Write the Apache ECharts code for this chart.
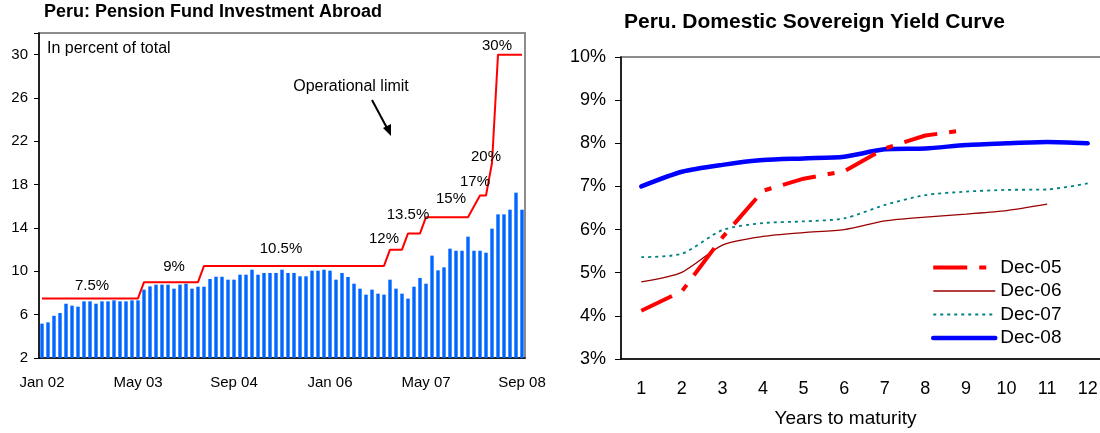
<!DOCTYPE html>
<html>
<head>
<meta charset="utf-8">
<title>Peru: pension funds abroad and yield curve</title>
<script src="https://cdn.jsdelivr.net/npm/echarts@6.0.0/dist/echarts.min.js"></script>
<style>
  html, body { margin: 0; padding: 0; background: #fff; }
  #chart { width: 1100px; height: 433px; }
</style>
</head>
<body>
<div id="chart"></div>
<script>
  // left panel: monthly, Jan 02 .. Sep 08
  var monthNames = ['Jan', 'Feb', 'Mar', 'Apr', 'May', 'Jun', 'Jul', 'Aug', 'Sep', 'Oct', 'Nov', 'Dec'];
  var years = ['02', '03', '04', '05', '06', '07', '08'];
  var lastMonth = 'Sep 08';

  var months = [];
  years.forEach(function (y) {
    monthNames.forEach(function (m) {
      if (months.length && months[months.length - 1] === lastMonth) return;
      months.push(m + ' ' + y);
    });
  });

  // pension fund investment abroad, percent of total
  var abroadShare = [
    5.17, 5.29, 5.9, 6.15, 7.01, 6.83, 6.74, 7.23, 7.23, 7.01, 7.23, 7.23,
    7.32, 7.23, 7.23, 7.32, 7.32, 8.31, 8.61, 8.77, 8.77, 8.77, 8.4, 8.77,
    8.86, 8.4, 8.58, 8.58, 9.29, 9.5, 9.5, 9.23, 9.23, 9.69, 9.69, 10.15,
    9.69, 9.85, 9.85, 9.85, 10.15, 9.85, 9.85, 9.54, 9.54, 10.06, 10.06, 10.15,
    10.06, 9.23, 9.85, 9.48, 8.86, 8.4, 7.85, 8.31, 7.94, 7.85, 9.23, 8.4,
    7.94, 7.48, 8.58, 9.39, 8.86, 11.45, 10.09, 10.37, 12.09, 11.9, 11.9, 13.2,
    11.9, 11.9, 11.72, 13.94, 15.26, 15.26, 15.69, 17.26, 15.69
  ];

  // operational limit
  var operationalLimit = [
    7.5, 7.5, 7.5, 7.5, 7.5, 7.5, 7.5, 7.5, 7.5, 7.5, 7.5, 7.5,
    7.5, 7.5, 7.5, 7.5, 7.5, 9, 9, 9, 9, 9, 9, 9,
    9, 9, 9, 10.5, 10.5, 10.5, 10.5, 10.5, 10.5, 10.5, 10.5, 10.5,
    10.5, 10.5, 10.5, 10.5, 10.5, 10.5, 10.5, 10.5, 10.5, 10.5, 10.5, 10.5,
    10.5, 10.5, 10.5, 10.5, 10.5, 10.5, 10.5, 10.5, 10.5, 10.5, 12, 12,
    12, 13.5, 13.5, 13.5, 15, 15, 15, 15, 15, 15, 15, 15,
    16, 17, 17, 20, 30, 30, 30, 30, 30
  ];

  // right panel: yield curve
  var maturities = ['1', '2', '3', '4', '5', '6', '7', '8', '9', '10', '11', '12'];
  var dec05 = [4.12, 4.57, 5.82, 6.9, 7.18, 7.35, 7.88, 8.18, 8.31];
  var dec06 = [4.79, 5.01, 5.64, 5.84, 5.93, 6.0, 6.2, 6.29, 6.36, 6.44, 6.59];
  var dec07 = [5.36, 5.44, 5.99, 6.15, 6.19, 6.26, 6.57, 6.8, 6.88, 6.92, 6.93, 7.07];
  var dec08 = [7.0, 7.34, 7.5, 7.61, 7.65, 7.69, 7.86, 7.88, 7.96, 8.0, 8.03, 8.0];

  var FONT = '"Liberation Sans", Arial, sans-serif';

  function note(text, x, y, size) {
    return {
      type: 'text', z: 100,
      style: {
        text: text, x: x, y: y, align: 'center', verticalAlign: 'middle',
        fontSize: size || 15, fontFamily: FONT, fill: '#000'
      }
    };
  }

  var chart = echarts.init(document.getElementById('chart'));
  chart.setOption({
    animation: false,
    backgroundColor: '#fff',
    textStyle: { fontFamily: FONT, color: '#000' },
    title: [
      {
        text: 'Peru: Pension Fund Investment Abroad', left: 44, top: 3, padding: 0,
        textStyle: { fontSize: 18, fontWeight: 'bold', color: '#000', fontFamily: FONT }
      },
      {
        text: 'Peru. Domestic Sovereign Yield Curve', left: 624, top: 12, padding: 0,
        textStyle: { fontSize: 21, fontWeight: 'bold', color: '#000', fontFamily: FONT }
      }
    ],
    legend: {
      data: ['Dec-05', 'Dec-06', 'Dec-07', 'Dec-08'],
      orient: 'vertical', left: 931, top: 258, padding: 0,
      itemWidth: 62, itemHeight: 20, itemGap: 4.5,
      itemStyle: { opacity: 0 },
      lineStyle: { width: 'inherit' },
      textStyle: { fontSize: 19, color: '#000', fontFamily: FONT }
    },
    grid: [
      { left: 39, top: 33, width: 486, height: 325, show: true, borderColor: '#8c8c8c', borderWidth: 2, outerBoundsMode: 'none' },
      { left: 621, top: 57, right: -8, height: 302, show: true, borderColor: '#8c8c8c', borderWidth: 2, outerBoundsMode: 'none' }
    ],
    xAxis: [
      {
        gridIndex: 0, type: 'category', data: months, boundaryGap: true,
        axisLine: { lineStyle: { color: '#000', width: 1.5 } },
        axisTick: { interval: 15, length: 5, lineStyle: { color: '#000' } },
        axisLabel: { interval: 15, margin: 17, fontSize: 15, color: '#000' },
        splitLine: { show: false }
      },
      {
        gridIndex: 1, type: 'category', data: maturities, boundaryGap: true,
        name: 'Years to maturity', nameLocation: 'middle', nameGap: 50,
        nameTextStyle: { fontSize: 19, color: '#000', padding: [0, 38, 0, 0] },
        axisLine: { lineStyle: { color: '#000', width: 1.5 } },
        axisTick: { length: 6, lineStyle: { color: '#000' } },
        axisLabel: { margin: 21, fontSize: 18, color: '#000' },
        splitLine: { show: false }
      }
    ],
    yAxis: [
      {
        gridIndex: 0, type: 'value', min: 2, max: 32, interval: 4,
        axisLine: { show: true, lineStyle: { color: '#000', width: 1.5 } },
        axisTick: { show: true, length: 5, lineStyle: { color: '#000' } },
        axisLabel: {
          margin: 11, fontSize: 15, color: '#000',
          formatter: function (v) { return v > 30 ? '' : v; }
        },
        splitLine: { show: false }
      },
      {
        gridIndex: 1, type: 'value', min: 3, max: 10, interval: 1,
        axisLine: { show: true, lineStyle: { color: '#000', width: 1.5 } },
        axisTick: { show: true, length: 6, lineStyle: { color: '#000' } },
        axisLabel: { margin: 15, fontSize: 18, color: '#000', formatter: '{value}%' },
        splitLine: { show: false }
      }
    ],
    series: [
      {
        name: 'Investment abroad', type: 'bar', xAxisIndex: 0, yAxisIndex: 0,
        data: abroadShare, barWidth: 3.4, itemStyle: { color: '#0066ff' }
      },
      {
        name: 'Operational limit', type: 'line', xAxisIndex: 0, yAxisIndex: 0,
        data: operationalLimit, symbol: 'none', z: 3,
        lineStyle: { color: '#ff0000', width: 2 }
      },
      {
        name: 'Dec-05', type: 'line', xAxisIndex: 1, yAxisIndex: 1,
        data: dec05, symbol: 'none', z: 4,
        itemStyle: { color: '#ff0000' },
        lineStyle: { color: '#ff0000', width: 4, type: [34, 12, 7, 12], cap: 'butt' }
      },
      {
        name: 'Dec-06', type: 'line', xAxisIndex: 1, yAxisIndex: 1,
        data: dec06, symbol: 'none', smooth: 0.25,
        itemStyle: { color: '#990000' },
        lineStyle: { color: '#990000', width: 1.3 }
      },
      {
        name: 'Dec-07', type: 'line', xAxisIndex: 1, yAxisIndex: 1,
        data: dec07, symbol: 'none', smooth: 0.25,
        itemStyle: { color: '#008080' },
        lineStyle: { color: '#008080', width: 1.8, type: [3, 4] }
      },
      {
        name: 'Dec-08', type: 'line', xAxisIndex: 1, yAxisIndex: 1,
        data: dec08, symbol: 'none', smooth: 0.25, z: 3,
        itemStyle: { color: '#0000ff' },
        lineStyle: { color: '#0000ff', width: 4.5, cap: 'round' }
      }
    ],
    graphic: [
      {
        type: 'text', z: 100,
        style: { text: 'In percent of total', x: 47, y: 49, verticalAlign: 'middle', fontSize: 16, fontFamily: FONT, fill: '#000' }
      },
      note('Operational limit', 351, 87, 16),
      note('7.5%', 92, 286),
      note('9%', 174, 267),
      note('10.5%', 281, 249),
      note('12%', 384, 239),
      note('13.5%', 408, 215),
      note('15%', 451, 199),
      note('17%', 475, 182),
      note('20%', 486, 157),
      note('30%', 497, 46),
      {
        type: 'line', z: 100,
        shape: { x1: 372, y1: 100, x2: 387, y2: 128 },
        style: { stroke: '#000', lineWidth: 2 }
      },
      {
        type: 'polygon', z: 100,
        shape: { points: [[391, 136], [383, 128], [391, 124]] },
        style: { fill: '#000' }
      }
    ]
  });
</script>
</body>
</html>
